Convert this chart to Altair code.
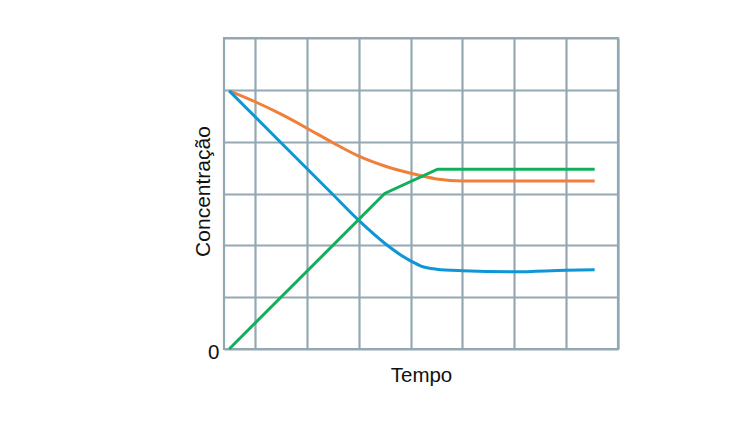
import altair as alt
import pandas as pd

# Data (x in grid units of time, y in grid units of concentration)
green_x = [0.0, 3.0, 4.02, 7.05]
green_y = [0.0, 3.0, 3.47, 3.47]

orange_x = [0.0, 0.5, 1.0, 1.5, 2.0, 2.5, 3.0, 3.5, 4.0, 4.5, 5.0, 6.0, 7.05]
orange_y = [4.98, 4.77, 4.53, 4.26, 3.98, 3.72, 3.53, 3.39, 3.28, 3.24, 3.24, 3.24, 3.24]

blue_x = [0.0, 1.0, 2.0, 2.5, 3.0, 3.3, 3.5, 3.7, 4.0, 4.5, 5.5, 6.5, 7.05]
blue_y = [4.98, 3.98, 2.98, 2.48, 2.04, 1.82, 1.70, 1.60, 1.54, 1.51, 1.49, 1.52, 1.53]

x_grid = [0.5, 1.5, 2.5, 3.5, 4.5, 5.5, 6.5, 7.5]
y_grid = [0, 1, 2, 3, 4, 5, 6]

FONT = "Liberation Sans"
GRID = "#93a8b2"

def frame(xs, ys):
    return pd.DataFrame({"t": xs, "c": ys})

x_enc = alt.X(
    "t:Q",
    scale=alt.Scale(domain=[-0.1, 7.5], nice=False, zero=False),
    axis=alt.Axis(
        values=x_grid, labels=False, ticks=False, tickSize=0, domain=False,
        grid=True, gridColor=GRID, gridWidth=2.2, gridOpacity=1,
        title="Tempo", titleFont=FONT, titleFontSize=20.5, titleFontWeight="normal",
        titleColor="#111111", titleX=197, titleY=32, titleBaseline="alphabetic",
        titleAlign="center",
    ),
)
y_enc = alt.Y(
    "c:Q",
    scale=alt.Scale(domain=[0, 6], nice=False),
    axis=alt.Axis(
        values=y_grid, labelExpr="datum.value == 0 ? '0' : ''", ticks=False,
        tickSize=0, domain=False, labelPadding=5, labelFont=FONT, labelFontSize=20.5,
        labelColor="#111111", labelBaseline="alphabetic", labelOffset=9,
        grid=True, gridColor=GRID, gridWidth=2.2, gridOpacity=1,
        title="Concentração", titleFont=FONT, titleFontSize=21, titleFontWeight="normal",
        titleColor="#111111", titleAngle=270, titleX=-15, titleY=153,
        titleBaseline="alphabetic", titleAlign="center",
    ),
)

green = alt.Chart(frame(green_x, green_y)).mark_line(
    color="#12b05a", strokeWidth=3, interpolate="linear"
).encode(x=x_enc, y=y_enc)
orange = alt.Chart(frame(orange_x, orange_y)).mark_line(
    color="#f07f3a", strokeWidth=3, interpolate="monotone"
).encode(x=x_enc, y=y_enc)
blue = alt.Chart(frame(blue_x, blue_y)).mark_line(
    color="#0e96d6", strokeWidth=3, interpolate="monotone"
).encode(x=x_enc, y=y_enc)

chart = (
    alt.layer(orange, blue, green)
    .properties(
        width=394, height=311,
        autosize=alt.AutoSizeParams(type="none"),
        padding={"left": 216, "top": 30, "right": 110, "bottom": 60},
        background="white",
    )
    .configure_view(stroke=GRID, strokeWidth=2.2)
)

chart.save("out.html", embed_options={"renderer": "svg", "actions": False})
